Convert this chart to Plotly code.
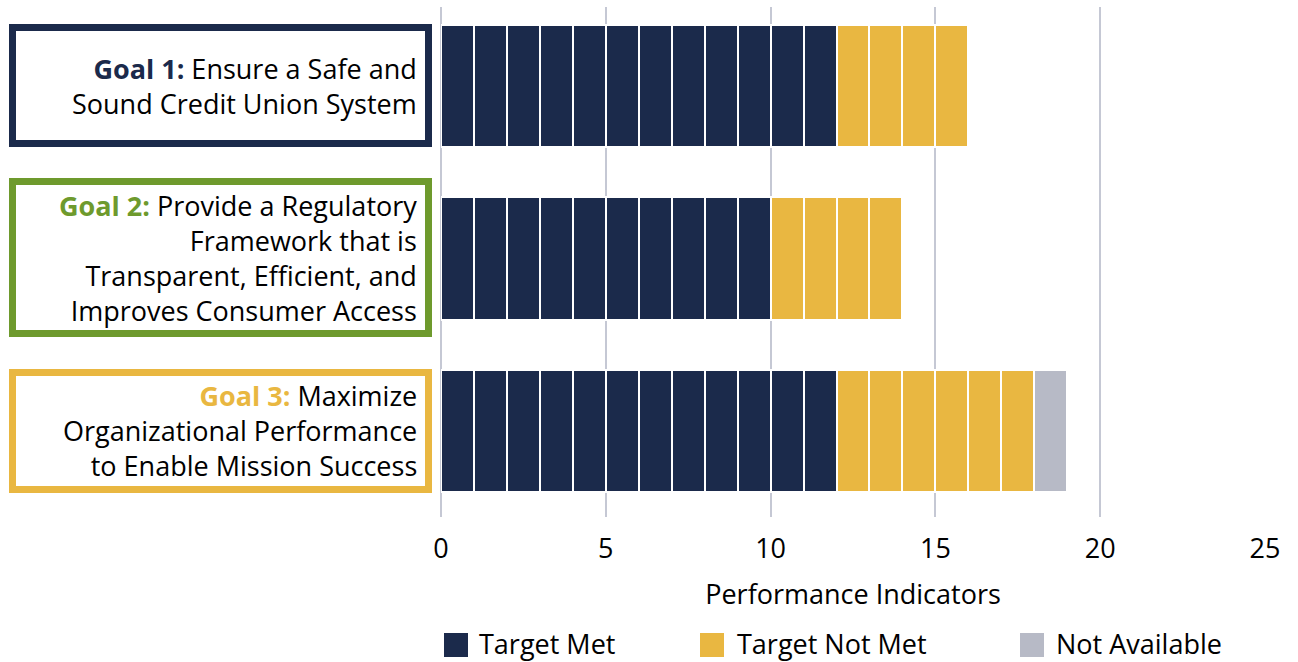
import plotly.graph_objects as go

# ---- data ----
goals = ["Goal 1", "Goal 2", "Goal 3"]
goal_titles = ["Goal 1:", "Goal 2:", "Goal 3:"]
goal_lines = [
    ["Ensure a Safe and", "Sound Credit Union System"],
    ["Provide a Regulatory", "Framework that is", "Transparent, Efficient, and",
     "Improves Consumer Access"],
    ["Maximize", "Organizational Performance", "to Enable Mission Success"],
]
target_met = [12, 10, 12]
target_not_met = [4, 4, 6]
not_available = [0, 0, 1]
x_ticks = [0, 5, 10, 15, 20, 25]
axis_title = "Performance Indicators"

# ---- styles ----
NAVY = "#1b2a4b"
GOLD = "#e9b741"
GRAY = "#b7bac6"
GREEN = "#6e9a2d"
goal_colors = [NAVY, GREEN, GOLD]
FONT = "Open Sans"
TXT = "#000000"

W, H = 1298, 662
T, B = 7, 517
L, R = 441, 1265


def px(xp):
    return xp / W


def py(yp):
    return (B - yp) / (B - T)


fig = go.Figure()

series = [("Target Met", target_met, NAVY),
          ("Target Not Met", target_not_met, GOLD),
          ("Not Available", not_available, GRAY)]
for name, counts, color in series:
    ys, xs = [], []
    for g, c in zip(goals, counts):
        for _ in range(c):
            ys.append(g)
            xs.append(1)
    fig.add_trace(go.Bar(
        x=xs, y=ys, orientation="h", name=name,
        marker=dict(color=color, line=dict(color="white", width=2)),
        width=0.71, showlegend=False, hoverinfo="skip",
    ))

shapes = []
annotations = []

# goal boxes (outer pixel extents)
box_y = [(24, 147), (178, 337), (369, 493)]
bw = 7
for (y0, y1), col in zip(box_y, goal_colors):
    shapes.append(dict(
        type="rect", xref="paper", yref="paper",
        x0=px(9 + bw / 2), x1=px(432 - bw / 2),
        y0=py(y0 + bw / 2), y1=py(y1 - bw / 2),
        line=dict(color=col, width=bw), fillcolor="white", layer="below",
    ))

for g, t, lines, col in zip(goals, goal_titles, goal_lines, goal_colors):
    body = "<br>".join(lines)
    annotations.append(dict(
        xref="paper", yref="y", x=px(418), y=g,
        xanchor="right", yanchor="middle", align="right",
        borderpad=0,
        text=f"<b><span style='color:{col}'>{t}</span></b> {body}",
        showarrow=False,
        font=dict(family=FONT, size=27, color=TXT),
    ))

# legend (manual)
leg_items = [(444, 480, "Target Met", NAVY),
             (700, 738, "Target Not Met", GOLD),
             (1020, 1057, "Not Available", GRAY)]
for sx, tx, label, col in leg_items:
    shapes.append(dict(
        type="rect", xref="paper", yref="paper",
        x0=px(sx), x1=px(sx + 24), y0=py(633), y1=py(657),
        line=dict(width=0), fillcolor=col,
    ))
    annotations.append(dict(
        xref="paper", yref="paper", x=px(tx - 2), y=py(643.5),
        xanchor="left", yanchor="middle", borderpad=0,
        text=label, showarrow=False,
        font=dict(family=FONT, size=27, color=TXT),
    ))

fig.update_layout(
    width=W, height=H,
    margin=dict(l=0, r=0, t=T, b=H - B, pad=0, autoexpand=False),
    barmode="stack",
    plot_bgcolor="white", paper_bgcolor="white",
    font=dict(family=FONT, size=27, color=TXT),
    showlegend=False,
    shapes=shapes, annotations=annotations,
    xaxis=dict(
        domain=[px(L), px(R)], range=[0, 25], automargin=False,
        tickvals=x_ticks, ticktext=[str(v) for v in x_ticks],
        showgrid=True, gridcolor="#c5c8d4", gridwidth=1.5,
        zeroline=True, zerolinecolor="#c5c8d4", zerolinewidth=1.5,
        showline=False, ticks="", ticklabelstandoff=13,
        tickfont=dict(family=FONT, size=27, color=TXT),
        title=dict(text=axis_title, standoff=20,
                   font=dict(family=FONT, size=27, color=TXT)),
    ),
    yaxis=dict(
        type="category", categoryorder="array", categoryarray=goals,
        range=[2.5, -0.4586], showticklabels=False, showgrid=False,
        zeroline=False, ticks="", automargin=False,
    ),
)

fig.write_html("out.html")
